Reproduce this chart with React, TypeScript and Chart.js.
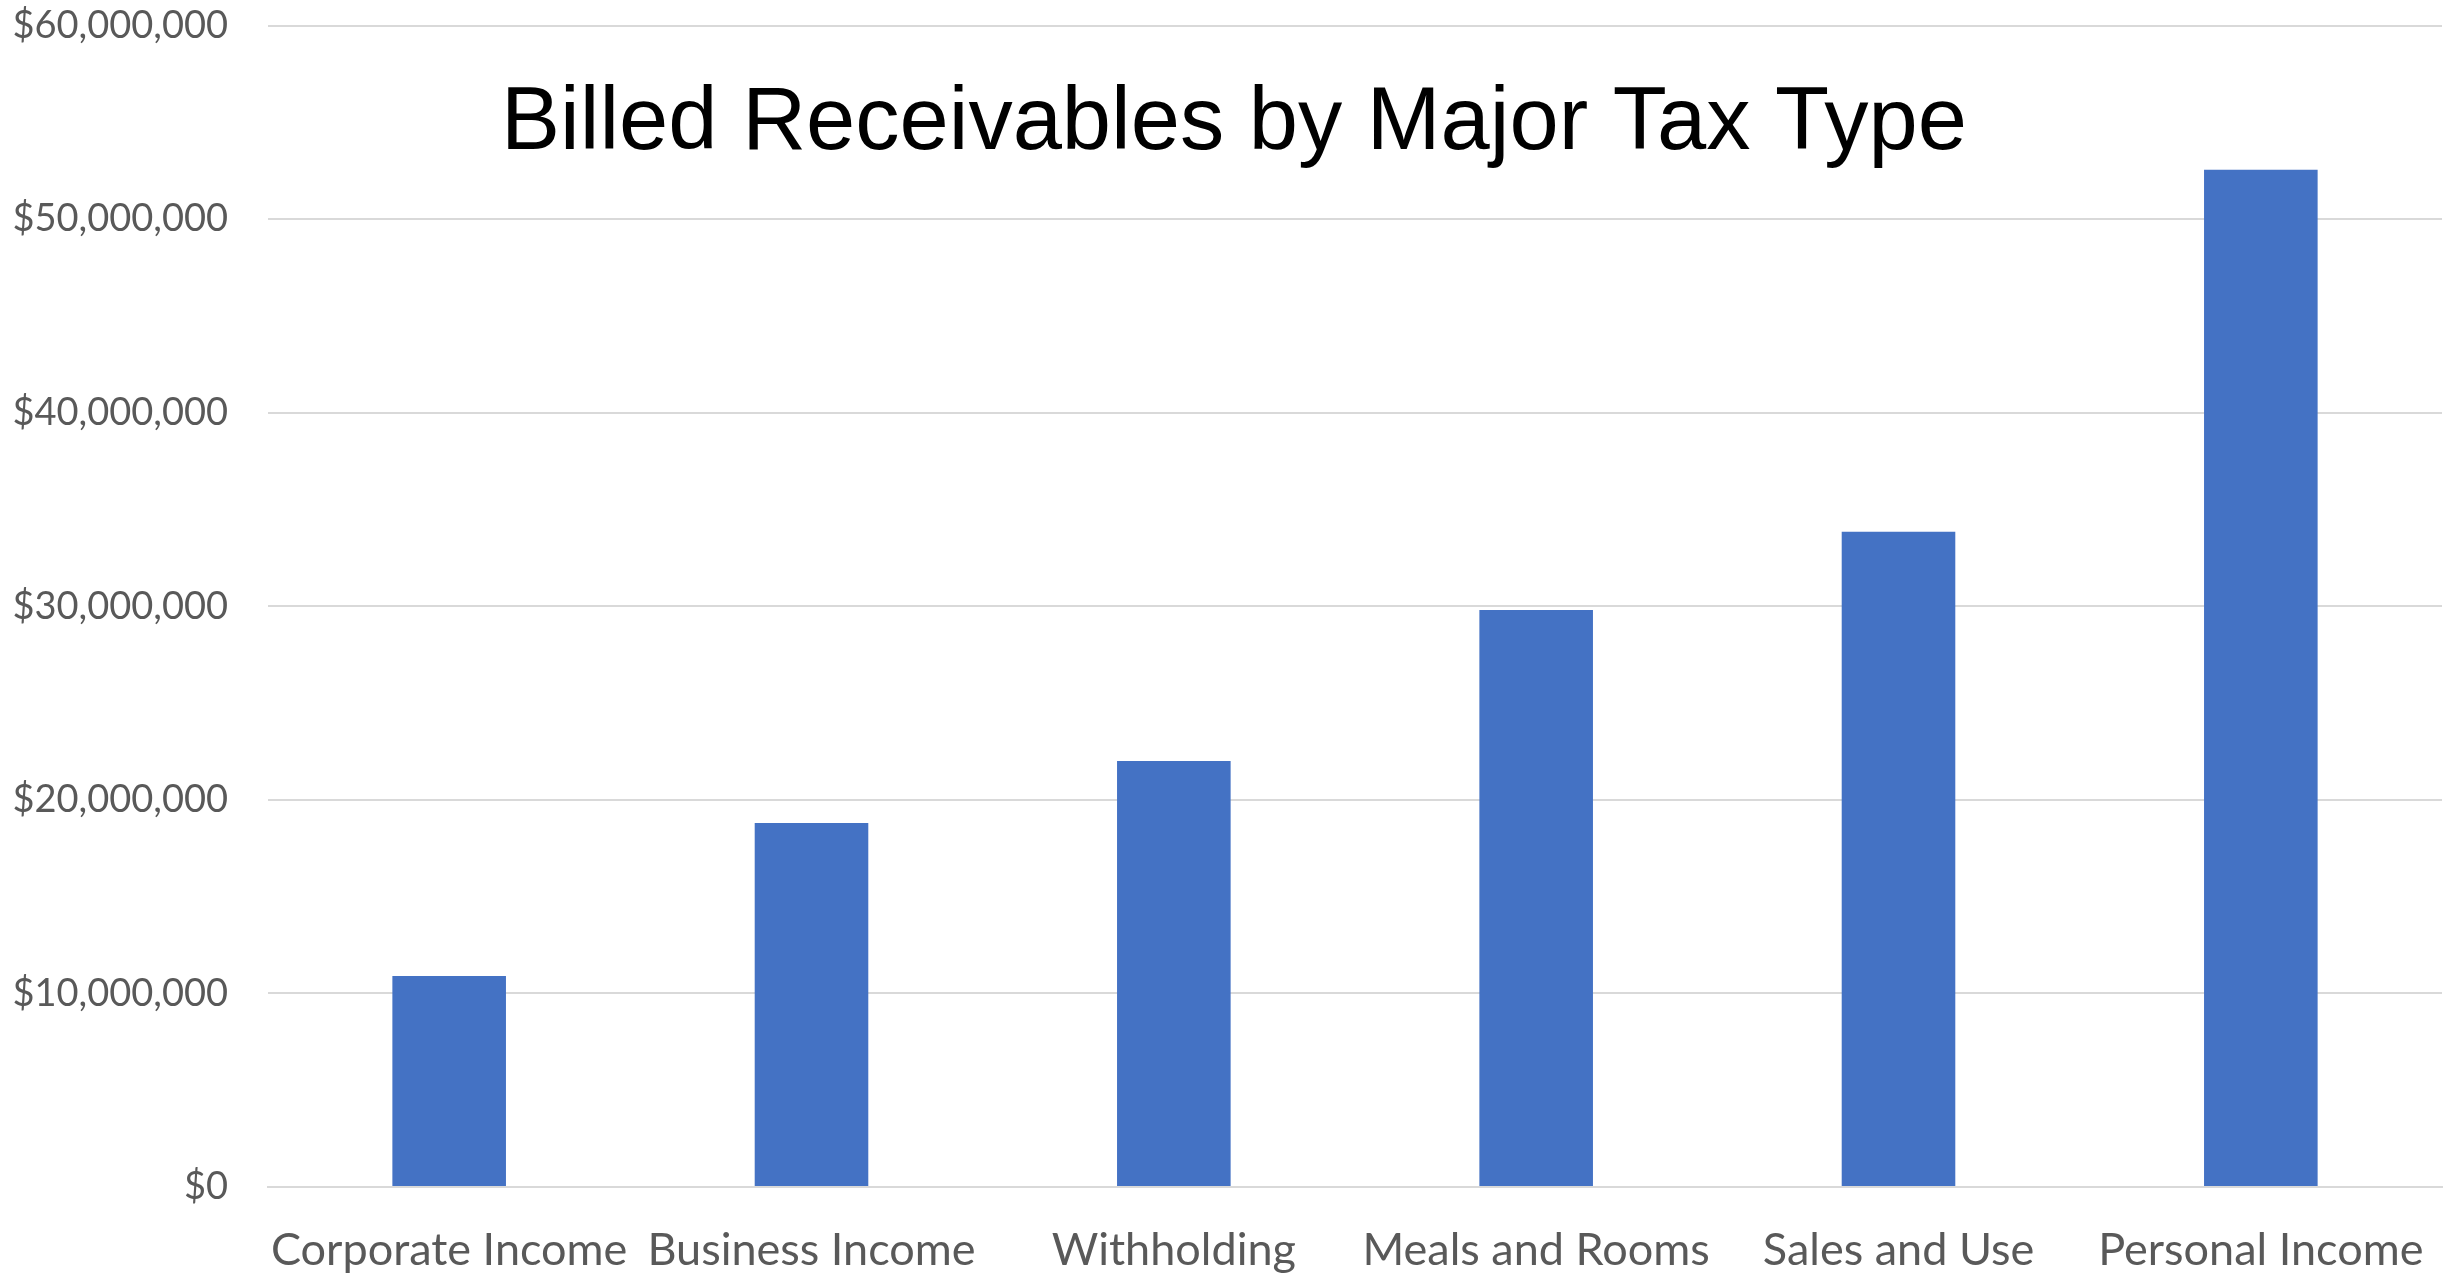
import React, { useEffect, useRef } from "react";
import { Chart, registerables } from "chart.js";

Chart.register(...registerables);

const categories = [
  "Corporate Income",
  "Business Income",
  "Withholding",
  "Meals and Rooms",
  "Sales and Use",
  "Personal Income",
];
const billedReceivables = [10900000, 18800000, 22000000, 29800000, 33850000, 52550000];
const yTickMin = 0;
const yTickMax = 60000000;
const yTickStep = 10000000;
const chartTitle = "Billed Receivables by Major Tax Type";

export default function App() {
  const ref = useRef<HTMLCanvasElement | null>(null);

  useEffect(() => {
    document.body.style.margin = "0";
    const canvas = ref.current;
    if (!canvas) return;

    const titlePlugin = {
      id: "overlayTitle",
      afterDraw(chart: any) {
        const ctx = chart.ctx;
        ctx.save();
        ctx.font = "88.5px 'Liberation Sans'";
        ctx.fillStyle = "#000000";
        ctx.textAlign = "center";
        ctx.textBaseline = "alphabetic";
        ctx.fillText(chartTitle, 1234, 149);
        ctx.restore();
      },
    };

    const chart = new Chart(canvas, {
      type: "bar",
      data: {
        labels: categories,
        datasets: [
          {
            label: "Billed Receivables",
            data: billedReceivables,
            backgroundColor: "#4472C4",
            borderWidth: 0,
            categoryPercentage: 1,
            barPercentage: 0.3135,
          },
        ],
      },
      options: {
        animation: false,
        responsive: false,
        maintainAspectRatio: false,
        layout: { padding: { top: 25.5, right: 3, bottom: 0, left: 0 } },
        plugins: {
          legend: { display: false },
          tooltip: { enabled: false },
          title: { display: false },
        },
        scales: {
          x: {
            grid: { display: false, drawTicks: false },
            border: { display: true, color: "#D9D9D9", width: 2 },
            ticks: {
              color: "#595959",
              font: { family: "Lato", size: 45 },
              padding: 36,
              maxRotation: 0,
              autoSkip: false,
            },
            afterFit(scale: any) {
              scale.height = 1274 - 1187;
              scale.paddingLeft = 0;
              scale.paddingRight = 0;
            },
          },
          y: {
            min: yTickMin,
            max: yTickMax,
            grid: { color: "#D9D9D9", lineWidth: 2, drawTicks: false },
            border: { display: false },
            ticks: {
              stepSize: yTickStep,
              color: "#595959",
              font: { family: "Lato", size: 38 },
              padding: 40,
              callback: (v: any) => "$" + Number(v).toLocaleString("en-US"),
            },
            afterFit(scale: any) {
              scale.width = 268;
              scale.paddingTop = 0;
              scale.paddingBottom = 0;
            },
          },
        },
      },
      plugins: [titlePlugin],
    });

    return () => chart.destroy();
  }, []);

  return (
    <div style={{ position: "fixed", left: 0, top: 0, width: 2445, height: 1274, background: "#ffffff" }}>
      <canvas ref={ref} width={2445} height={1274} style={{ width: 2445, height: 1274 }} />
    </div>
  );
}
